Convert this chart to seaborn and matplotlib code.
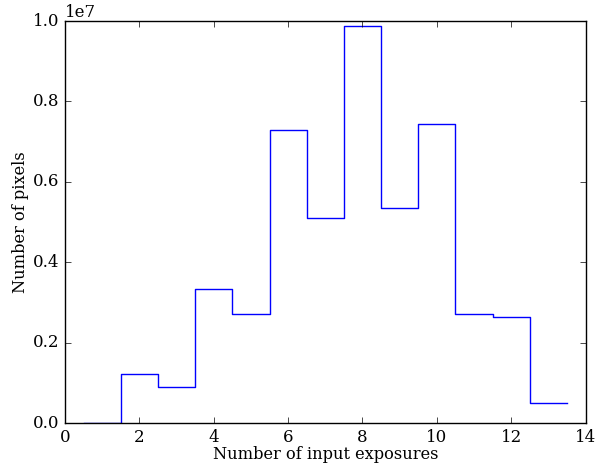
import matplotlib
matplotlib.use('Agg')
import matplotlib.pyplot as plt
import seaborn as sns
import pandas as pd

# Data
exposures = [1, 2, 3, 4, 5, 6, 7, 8, 9, 10, 11, 12, 13]
pixels = [0.0, 1.23e6, 0.90e6, 3.33e6, 2.71e6, 7.29e6, 5.09e6,
          9.88e6, 5.36e6, 7.44e6, 2.72e6, 2.64e6, 0.51e6]

df = pd.DataFrame({'exposures': exposures, 'pixels': pixels})

plt.style.use('classic')
plt.rcParams['font.family'] = 'DejaVu Serif'

fig, ax = plt.subplots(figsize=(6.08, 4.68), dpi=100)
fig.subplots_adjust(left=0.107, right=0.963, top=0.955, bottom=0.096)

sns.histplot(data=df, x='exposures', weights='pixels', discrete=True,
             element='step', fill=False, color='b', linewidth=1, ax=ax)

ax.set_xlim(0, 14)
ax.set_ylim(0, 1.0e7)
ax.set_xticks(range(0, 15, 2))
ax.set_xlabel('Number of input exposures', fontsize=11.7, labelpad=0.5)
ax.set_ylabel('Number of pixels', fontsize=11.7, labelpad=3)

fig.savefig('out.png', facecolor='white')
